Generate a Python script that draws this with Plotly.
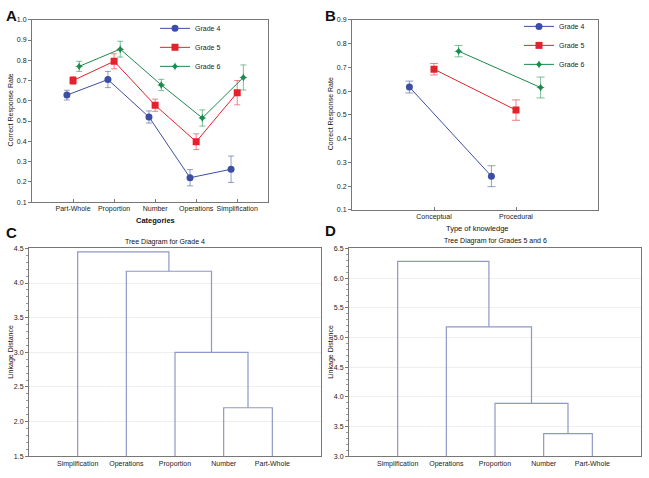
import plotly.graph_objects as go

W, H = 649, 478

# ---------------- data ----------------
categories = ["Part-Whole", "Proportion", "Number", "Operations", "Simplification"]
grade4_cat = [0.628, 0.705, 0.520, 0.220, 0.262]
grade4_cat_err = [0.024, 0.040, 0.030, 0.040, 0.065]
grade5_cat = [0.700, 0.795, 0.578, 0.398, 0.640]
grade5_cat_err = [0.020, 0.037, 0.030, 0.039, 0.060]
grade6_cat = [0.770, 0.855, 0.678, 0.515, 0.715]
grade6_cat_err = [0.025, 0.039, 0.028, 0.040, 0.062]

knowledge = ["Conceptual", "Procedural"]
grade4_know = [0.617, 0.242]
grade4_know_err = [0.025, 0.044]
grade5_know = [0.692, 0.520]
grade5_know_err = [0.024, 0.043]
grade6_know = [0.768, 0.615]
grade6_know_err = [0.024, 0.044]

leaves = ["Simplification", "Operations", "Proportion", "Number", "Part-Whole"]
# merges in scipy style: leaf ids 0..4, new clusters 5, 6, ...
merges = [(3, 4), (2, 5), (1, 6), (0, 7)]
heights_grade4 = [2.20, 3.00, 4.17, 4.45]
heights_grade56 = [3.38, 3.89, 5.18, 6.28]

grades = ["Grade 4", "Grade 5", "Grade 6"]

# ---------------- styles ----------------
FONT = "Liberation Sans, Arial, sans-serif"
colors = ["#3b4ea3", "#e3222b", "#1b8a4c"]
err_colors = ["rgba(59,78,163,0.55)", "rgba(227,34,43,0.55)", "rgba(27,138,76,0.55)"]
symbols = ["circle", "square", "star-diamond"]
msizes = [7, 7, 6]
offsets = [-0.15, 0.0, 0.15]
DENDRO = "#8e98c8"
FRAME = "#777777"


def px_x(a, b):
    return [a / W, b / W]


def px_y(top, bottom):
    return [1 - bottom / H, 1 - top / H]


fig = go.Figure()

# ---- Panel A ----
for i, (vals, errs) in enumerate([(grade4_cat, grade4_cat_err),
                                   (grade5_cat, grade5_cat_err),
                                   (grade6_cat, grade6_cat_err)]):
    fig.add_trace(go.Scatter(
        x=[k + offsets[i] for k in range(len(categories))], y=vals,
        mode="lines+markers", name=grades[i],
        line=dict(color=colors[i], width=1),
        marker=dict(symbol=symbols[i], size=msizes[i], color=colors[i]),
        error_y=dict(type="data", array=errs, visible=True,
                     color=err_colors[i], thickness=1, width=3),
        xaxis="x", yaxis="y", legend="legend"))

# ---- Panel B ----
for i, (vals, errs) in enumerate([(grade4_know, grade4_know_err),
                                   (grade5_know, grade5_know_err),
                                   (grade6_know, grade6_know_err)]):
    fig.add_trace(go.Scatter(
        x=[k + offsets[i] * 2 for k in range(len(knowledge))], y=vals,
        mode="lines+markers", name=grades[i],
        line=dict(color=colors[i], width=1),
        marker=dict(symbol=symbols[i], size=msizes[i], color=colors[i]),
        error_y=dict(type="data", array=errs, visible=True,
                     color=err_colors[i], thickness=1, width=4),
        xaxis="x2", yaxis="y2", legend="legend2"))


# ---- Dendrograms ----
def dendro_path(heights, base):
    pos = {i: float(i) for i in range(len(leaves))}
    hgt = {i: base for i in range(len(leaves))}
    xs, ys = [], []
    nid = len(leaves)
    for (a, b), h in zip(merges, heights):
        xs += [pos[a], pos[a], pos[b], pos[b], None]
        ys += [hgt[a], h, h, hgt[b], None]
        pos[nid] = (pos[a] + pos[b]) / 2
        hgt[nid] = h
        nid += 1
    return xs, ys


xs, ys = dendro_path(heights_grade4, 1.5)
fig.add_trace(go.Scatter(x=xs, y=ys, mode="lines", showlegend=False,
                         line=dict(color=DENDRO, width=1.2),
                         xaxis="x3", yaxis="y3"))
xs, ys = dendro_path(heights_grade56, 3.0)
fig.add_trace(go.Scatter(x=xs, y=ys, mode="lines", showlegend=False,
                         line=dict(color=DENDRO, width=1.2),
                         xaxis="x4", yaxis="y4"))

tickfont = dict(family=FONT, size=7, color="#222")
common_axis = dict(showline=True, linecolor=FRAME, linewidth=1, mirror=True,
                   zeroline=False, tickfont=tickfont)

fig.update_layout(
    width=W, height=H,
    margin=dict(l=0, r=0, t=0, b=0),
    paper_bgcolor="white", plot_bgcolor="white",
    font=dict(family=FONT, size=7, color="#222"),
    xaxis=dict(domain=px_x(32, 268), range=[-1, 4.75], tickvals=list(range(len(categories))),
               ticktext=categories, showgrid=False, ticks="inside", ticklen=3,
               tickcolor=FRAME, anchor="y", **common_axis),
    yaxis=dict(domain=px_y(16, 201), range=[0.1, 1.0], dtick=0.1, tick0=0.1,
               tickformat=".1f", showgrid=False, ticks="outside", ticklen=3,
               tickcolor=FRAME, anchor="x", **common_axis),
    xaxis2=dict(domain=px_x(352, 598), range=[-1, 2], tickvals=list(range(len(knowledge))),
                ticktext=knowledge, showgrid=False, ticks="inside", ticklen=3,
                tickcolor=FRAME, anchor="y2", **common_axis),
    yaxis2=dict(domain=px_y(16, 209), range=[0.1, 0.9], dtick=0.1, tick0=0.1,
                tickformat=".1f", showgrid=False, ticks="outside", ticklen=3,
                tickcolor=FRAME, anchor="x2", **common_axis),
    xaxis3=dict(domain=px_x(29, 321), range=[-1, 5], tickvals=list(range(len(leaves))),
                ticktext=leaves, showgrid=False, ticks="", anchor="y3", **common_axis),
    yaxis3=dict(domain=px_y(248, 459), range=[1.5, 4.5], dtick=0.5, tick0=1.5,
                tickformat=".1f", showgrid=True, gridcolor="#eeeeee", gridwidth=1,
                ticks="outside", ticklen=3, tickcolor=FRAME,
                minor=dict(dtick=0.1, ticks="outside", ticklen=2, tickcolor="#999", showgrid=False),
                anchor="x3", **common_axis),
    xaxis4=dict(domain=px_x(349, 641), range=[-1, 5], tickvals=list(range(len(leaves))),
                ticktext=leaves, showgrid=False, ticks="", anchor="y4", **common_axis),
    yaxis4=dict(domain=px_y(248, 459), range=[3.0, 6.5], dtick=0.5, tick0=3.0,
                tickformat=".1f", showgrid=True, gridcolor="#eeeeee", gridwidth=1,
                ticks="outside", ticklen=3, tickcolor=FRAME,
                minor=dict(dtick=0.1, ticks="outside", ticklen=2, tickcolor="#999", showgrid=False),
                anchor="x4", **common_axis),
    legend=dict(x=155 / W, y=1 - 10 / H, xanchor="left", yanchor="top",
                font=dict(family=FONT, size=7, color="#222"), bgcolor="rgba(0,0,0,0)",
                itemwidth=30, tracegroupgap=0),
    legend2=dict(x=519 / W, y=1 - 8 / H, xanchor="left", yanchor="top",
                 font=dict(family=FONT, size=7, color="#222"), bgcolor="rgba(0,0,0,0)",
                 itemwidth=30, tracegroupgap=0),
)

ann = []
def add_text(text, x, y, size=7, bold=False, angle=0, xanchor="center"):
    ann.append(dict(text=f"<b>{text}</b>" if bold else text, x=x / W, y=1 - y / H,
                    xref="paper", yref="paper", showarrow=False, textangle=angle,
                    xanchor=xanchor, yanchor="middle",
                    font=dict(family=FONT, size=size, color="#111")))

# panel letters
add_text("A", 4, 12, size=15, bold=True, xanchor="left")
add_text("B", 323, 12, size=15, bold=True, xanchor="left")
add_text("C", 4, 232, size=15, bold=True, xanchor="left")
add_text("D", 323, 230, size=15, bold=True, xanchor="left")
# axis titles
add_text("Categories", 155, 220, size=7.5, bold=True)
add_text("Correct Response Rate", 11, 108, size=7, angle=-90)
add_text("Type of knowledge", 477, 228, size=7.5)
add_text("Correct Response Rate", 331, 112, size=7, angle=-90)
add_text("Tree Diagram for Grade 4", 165, 242, size=7)
add_text("Tree Diagram for Grades 5 and 6", 495, 241, size=7)
add_text("Linkage Distance", 11, 353, size=7, angle=-90)
add_text("Linkage Distance", 331, 353, size=7, angle=-90)
fig.update_layout(annotations=ann)

fig.write_html("out.html",
               config={"displayModeBar": False},
               post_script="document.body.style.margin='0';document.body.style.overflow='hidden';")
